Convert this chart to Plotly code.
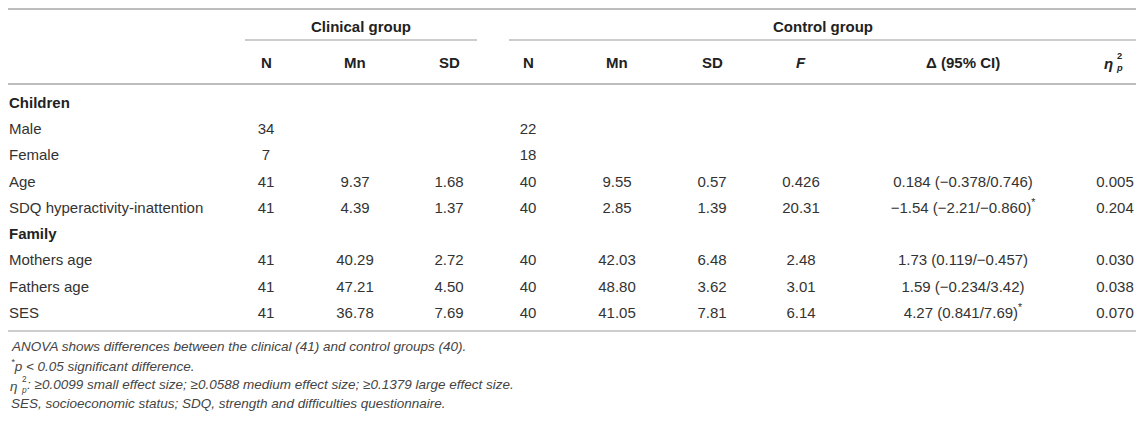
import plotly.graph_objects as go

# ---------------- data ----------------
row_labels = ["Children", "Male", "Female", "Age", "SDQ hyperactivity-inattention",
              "Family", "Mothers age", "Fathers age", "SES"]
section_rows = ["Children", "Family"]

clin_n = ["", "34", "7", "41", "41", "", "41", "41", "41"]
clin_mn = ["", "", "", "9.37", "4.39", "", "40.29", "47.21", "36.78"]
clin_sd = ["", "", "", "1.68", "1.37", "", "2.72", "4.50", "7.69"]
ctrl_n = ["", "22", "18", "40", "40", "", "40", "40", "40"]
ctrl_mn = ["", "", "", "9.55", "2.85", "", "42.03", "48.80", "41.05"]
ctrl_sd = ["", "", "", "0.57", "1.39", "", "6.48", "3.62", "7.81"]
f_vals = ["", "", "", "0.426", "20.31", "", "2.48", "3.01", "6.14"]
delta_ci = ["", "", "", "0.184 (−0.378/0.746)", "−1.54 (−2.21/−0.860)", "",
            "1.73 (0.119/−0.457)", "1.59 (−0.234/3.42)", "4.27 (0.841/7.69)"]
significant = [False, False, False, False, True, False, False, False, True]
eta_p2 = ["", "", "", "0.005", "0.204", "", "0.030", "0.038", "0.070"]

group_titles = ["Clinical group", "Control group"]
col_headers = ["N", "Mn", "SD", "N", "Mn", "SD", "<i>F</i>", "Δ (95% CI)"]

footnotes = [
    "ANOVA shows differences between the clinical (41) and control groups (40).",
    "<sup>*</sup>p < 0.05 significant difference.",
    ": ≥0.0099 small effect size; ≥0.0588 medium effect size; ≥0.1379 large effect size.",
    "SES, socioeconomic status; SDQ, strength and difficulties questionnaire.",
]

# ---------------- layout constants ----------------
W, H = 1144, 424
PAGE_MARGIN = 8          # default <body> margin of the html page
FONT = "Liberation Sans, Arial, Helvetica, sans-serif"
FS = 15
FFS = 13.5
BODY_COLOR = "#333333"
HEAD_COLOR = "#222222"
FOOT_COLOR = "#444444"
LINE_COLOR = "#bdbdbd"

label_x = 9
col_x = [266, 355, 449, 528, 617, 712, 801, 963]
eta_x = 1115
row0, row_h = 104, 26.25
y_top_line, y_group, y_underline, y_head, y_head_line = 9, 26, 40, 62, 84
y_bottom_line = 331
foot_y0, foot_h = 346, 19.3
x_left, x_right = PAGE_MARGIN, W - PAGE_MARGIN
group_spans = [(245, 477), (509, x_right)]

row_y = [row0 + i * row_h for i in range(len(row_labels))]

fig = go.Figure()

# row labels
fig.add_trace(go.Scatter(
    x=[label_x] * len(row_labels), y=row_y, mode="text",
    text=[f"<b>{t}</b>" if t in section_rows else t for t in row_labels],
    textposition="middle right",
    textfont=dict(family=FONT, size=FS,
                  color=[HEAD_COLOR if t in section_rows else BODY_COLOR for t in row_labels]),
    hoverinfo="skip", showlegend=False, cliponaxis=False))

columns = [clin_n, clin_mn, clin_sd, ctrl_n, ctrl_mn, ctrl_sd, f_vals,
           [d + ("<sup>*</sup>" if s else "") if d else "" for d, s in zip(delta_ci, significant)],
           eta_p2]
xs = col_x + [eta_x]
for cx, vals in zip(xs, columns):
    keep = [i for i, v in enumerate(vals) if v]
    fig.add_trace(go.Scatter(
        x=[cx] * len(keep), y=[row_y[i] for i in keep], mode="text",
        text=[vals[i] for i in keep],
        textposition="middle center",
        textfont=dict(family=FONT, size=FS, color=BODY_COLOR),
        hoverinfo="skip", showlegend=False, cliponaxis=False))

ann = []
# group titles
for (x0, x1), t in zip(group_spans, group_titles):
    ann.append(dict(x=(x0 + x1) / 2, y=y_group, text=f"<b>{t}</b>", showarrow=False,
                    xanchor="center", yanchor="middle",
                    font=dict(family=FONT, size=FS, color=HEAD_COLOR)))
# column headers
for cx, t in zip(col_x, col_headers):
    ann.append(dict(x=cx, y=y_head, text=f"<b>{t}</b>", showarrow=False,
                    xanchor="center", yanchor="middle",
                    font=dict(family=FONT, size=FS, color=HEAD_COLOR)))


def eta_symbol(x, y, size, color, bold):
    """η with a stacked superscript 2 and subscript p."""
    b0, b1 = ("<b>", "</b>") if bold else ("", "")
    return [
        dict(x=x, y=y + 1.5, text=f"{b0}<i>η</i>{b1}", showarrow=False, xanchor="right",
             yanchor="middle", borderpad=0,
             font=dict(family=FONT, size=size, color=color)),
        dict(x=x + 0.5, y=y, text=f"{b0}2{b1}<br>{b0}<i>p</i>{b1}", showarrow=False,
             xanchor="left", yanchor="middle", align="left", borderpad=0,
             font=dict(family=FONT, size=size * 0.62, color=color)),
    ]


ann += eta_symbol(eta_x - 1, y_head, FS, HEAD_COLOR, True)

# footnotes
for i, t in enumerate(footnotes):
    y = foot_y0 + i * foot_h
    if i == 2:
        ann += eta_symbol(label_x + 10, y, FFS, FOOT_COLOR, False)
        ann.append(dict(x=label_x + 16, y=y, text=f"<i>{t}</i>", showarrow=False,
                        xanchor="left", yanchor="middle",
                        font=dict(family=FONT, size=FFS, color=FOOT_COLOR)))
    else:
        ann.append(dict(x=label_x, y=y, text=f"<i>{t}</i>", showarrow=False,
                        xanchor="left", yanchor="middle",
                        font=dict(family=FONT, size=FFS, color=FOOT_COLOR)))

shapes = [
    dict(type="line", x0=x_left, x1=x_right, y0=y_top_line, y1=y_top_line,
         line=dict(color=LINE_COLOR, width=2)),
    dict(type="line", x0=x_left, x1=x_right, y0=y_head_line, y1=y_head_line,
         line=dict(color=LINE_COLOR, width=2)),
    dict(type="line", x0=x_left, x1=x_right, y0=y_bottom_line, y1=y_bottom_line,
         line=dict(color=LINE_COLOR, width=1.5)),
]
for x0, x1 in group_spans:
    shapes.append(dict(type="line", x0=x0, x1=x1, y0=y_underline, y1=y_underline,
                       line=dict(color=LINE_COLOR, width=1.5)))

# the page adds an 8px body margin on every side, so the figure is sized to fit
# inside the window without scrollbars, and its axes are set so that axis units
# equal window pixels
fig.update_layout(
    width=W - 2 * PAGE_MARGIN, height=H - 2 * PAGE_MARGIN,
    margin=dict(l=0, r=0, t=0, b=0),
    paper_bgcolor="white", plot_bgcolor="white",
    xaxis=dict(range=[PAGE_MARGIN, W - PAGE_MARGIN], visible=False, fixedrange=True),
    yaxis=dict(range=[H - PAGE_MARGIN, PAGE_MARGIN], visible=False, fixedrange=True),
    annotations=ann, shapes=shapes, showlegend=False,
)

fig.write_html("out.html")
